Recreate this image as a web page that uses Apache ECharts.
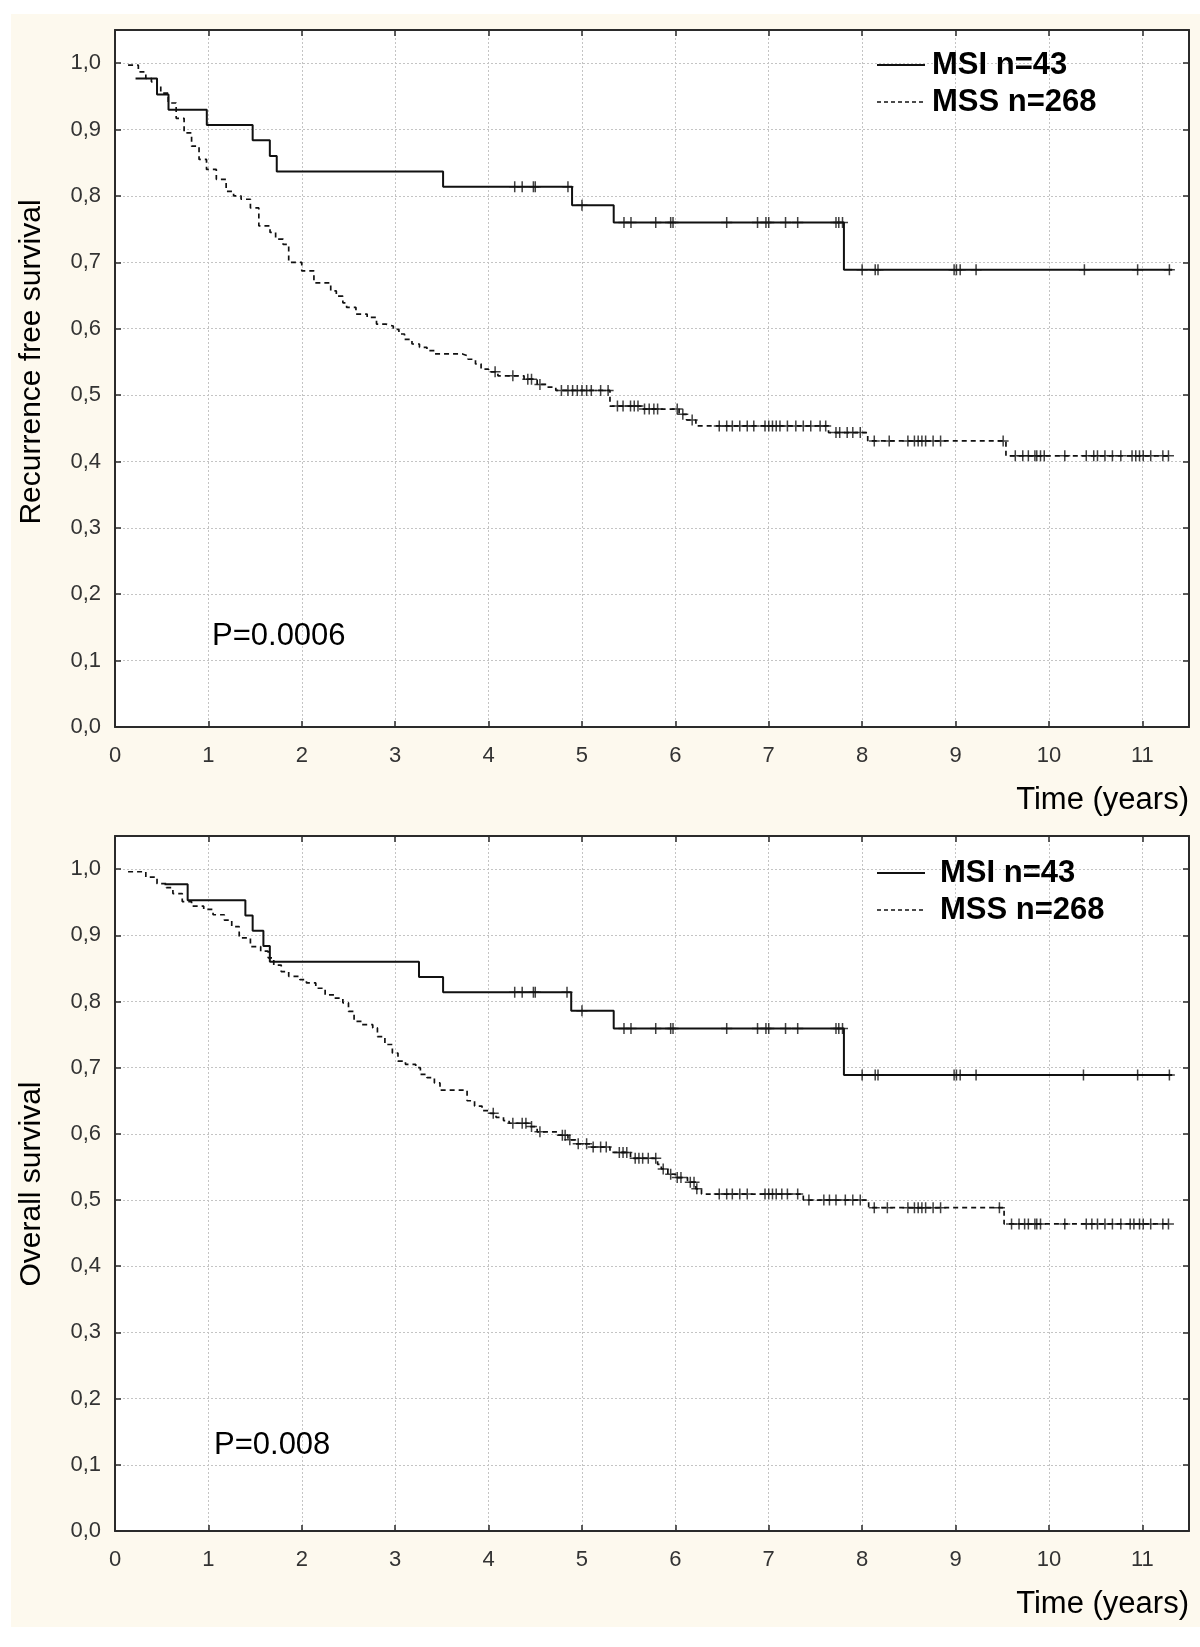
<!DOCTYPE html>
<html>
<head>
<meta charset="utf-8">
<script src="https://cdn.jsdelivr.net/npm/echarts@6/dist/echarts.min.js"></script>
<style>
html,body{margin:0;padding:0;background:#fff;}
#c{width:1200px;height:1647px;}
</style>
</head>
<body>
<div id="c"></div>
<script>
// ---------- DATA ----------
const xTickMax = 11.5;          // time axis extent (years)
const yTickMax = 1.05;          // survival axis extent

// Recurrence free survival, MSI (n=43): step times and survival after each step
const rfsMsiT = [0.22, 0.45, 0.573, 0.983, 1.474, 1.658, 1.732, 3.513, 4.894, 5.34, 7.805, 11.32];
const rfsMsiS = [0.977, 0.953, 0.930, 0.907, 0.884, 0.860, 0.837, 0.814, 0.786, 0.760, 0.689, 0.689];
const rfsMsiCens = [4.28, 4.36, 4.48, 4.50, 4.85, 5.0, 5.45, 5.525, 5.79, 5.95, 5.975, 6.55, 6.88, 6.97, 7.0, 7.18, 7.31, 7.72, 7.75, 7.79, 8.0, 8.14, 8.17, 8.985, 9.01, 9.05, 9.22, 10.38, 10.95, 11.29];

// Recurrence free survival, MSS (n=268)
const rfsMssT = [0.14, 0.25, 0.33, 0.39, 0.45, 0.49, 0.57, 0.655, 0.74, 0.82, 0.90, 0.98, 1.085, 1.19, 1.27, 1.35, 1.45, 1.54, 1.66, 1.72, 1.80, 1.86, 2.0, 2.13, 2.31, 2.37, 2.44, 2.48, 2.58, 2.70, 2.80, 2.90, 2.98, 3.04, 3.10, 3.18, 3.26, 3.34, 3.42, 3.72, 3.78, 3.86, 3.92, 4.00, 4.10, 4.38, 4.52, 4.62, 4.72, 5.30, 5.64, 6.04, 6.12, 6.22, 7.64, 8.06, 9.54, 11.28];
const rfsMssS = [0.997, 0.987, 0.977, 0.972, 0.966, 0.955, 0.94, 0.917, 0.895, 0.875, 0.855, 0.84, 0.825, 0.807, 0.80, 0.795, 0.782, 0.755, 0.745, 0.735, 0.727, 0.70, 0.687, 0.669, 0.657, 0.649, 0.639, 0.632, 0.622, 0.617, 0.607, 0.604, 0.599, 0.592, 0.584, 0.577, 0.572, 0.567, 0.562, 0.559, 0.554, 0.547, 0.539, 0.535, 0.529, 0.524, 0.516, 0.512, 0.507, 0.4835, 0.479, 0.471, 0.4625, 0.4535, 0.4435, 0.431, 0.4085, 0.4085];
const rfsMssCens = [4.07, 4.26, 4.42, 4.46, 4.55, 4.78, 4.85, 4.90, 4.95, 5.00, 5.05, 5.10, 5.20, 5.28, 5.38, 5.44, 5.52, 5.56, 5.60, 5.67, 5.72, 5.77, 5.81, 6.02, 6.08, 6.18, 6.47, 6.55, 6.61, 6.69, 6.77, 6.84, 6.96, 7.00, 7.04, 7.08, 7.12, 7.20, 7.29, 7.37, 7.45, 7.55, 7.61, 7.72, 7.76, 7.84, 7.90, 7.98, 8.13, 8.29, 8.49, 8.56, 8.60, 8.64, 8.68, 8.76, 8.84, 9.51, 9.64, 9.72, 9.78, 9.85, 9.87, 9.91, 9.95, 10.17, 10.40, 10.48, 10.52, 10.60, 10.68, 10.77, 10.89, 10.93, 10.97, 11.01, 11.09, 11.22, 11.28];

// Overall survival, MSI (n=43)
const osMsiT = [0.53, 0.778, 1.396, 1.474, 1.589, 1.658, 3.255, 3.513, 4.885, 5.34, 7.805, 11.32];
const osMsiS = [0.977, 0.953, 0.930, 0.907, 0.884, 0.860, 0.837, 0.814, 0.786, 0.759, 0.689, 0.689];
const osMsiCens = [4.28, 4.36, 4.48, 4.50, 4.84, 5.0, 5.45, 5.525, 5.79, 5.95, 5.975, 6.55, 6.88, 6.97, 7.0, 7.18, 7.31, 7.72, 7.75, 7.79, 8.0, 8.14, 8.17, 8.985, 9.01, 9.05, 9.22, 10.37, 10.95, 11.29];

// Overall survival, MSS (n=268)
const osMssT = [0.14, 0.33, 0.45, 0.55, 0.62, 0.72, 0.82, 0.95, 1.05, 1.17, 1.25, 1.33, 1.45, 1.56, 1.64, 1.70, 1.78, 1.86, 1.98, 2.05, 2.15, 2.25, 2.35, 2.44, 2.50, 2.56, 2.64, 2.76, 2.81, 2.89, 2.97, 3.03, 3.11, 3.22, 3.27, 3.34, 3.42, 3.48, 3.77, 3.85, 3.93, 4.02, 4.08, 4.16, 4.22, 4.44, 4.52, 4.75, 4.85, 4.93, 5.10, 5.30, 5.52, 5.81, 5.85, 5.92, 6.00, 6.13, 6.22, 6.28, 7.37, 8.07, 9.52, 11.28];
const osMssS = [0.996, 0.988, 0.978, 0.972, 0.963, 0.951, 0.944, 0.939, 0.931, 0.923, 0.913, 0.896, 0.883, 0.876, 0.866, 0.855, 0.845, 0.838, 0.833, 0.828, 0.820, 0.810, 0.805, 0.798, 0.785, 0.770, 0.765, 0.760, 0.747, 0.735, 0.722, 0.710, 0.705, 0.700, 0.690, 0.685, 0.677, 0.666, 0.650, 0.642, 0.635, 0.631, 0.625, 0.620, 0.616, 0.611, 0.603, 0.598, 0.591, 0.585, 0.580, 0.572, 0.563, 0.554, 0.547, 0.539, 0.534, 0.527, 0.517, 0.509, 0.500, 0.4885, 0.464, 0.464];
const osMssCens = [4.05, 4.26, 4.36, 4.40, 4.46, 4.55, 4.79, 4.82, 4.87, 4.96, 5.05, 5.12, 5.20, 5.26, 5.40, 5.44, 5.48, 5.57, 5.61, 5.65, 5.71, 5.79, 5.87, 5.95, 6.02, 6.06, 6.16, 6.20, 6.23, 6.47, 6.55, 6.61, 6.69, 6.77, 6.96, 7.00, 7.04, 7.08, 7.14, 7.20, 7.31, 7.43, 7.59, 7.65, 7.72, 7.82, 7.90, 7.98, 8.13, 8.27, 8.49, 8.56, 8.60, 8.64, 8.68, 8.76, 8.84, 9.47, 9.60, 9.68, 9.74, 9.78, 9.85, 9.87, 9.91, 10.17, 10.40, 10.46, 10.52, 10.60, 10.68, 10.77, 10.87, 10.91, 10.97, 11.01, 11.09, 11.22, 11.28];

const legendLabels = ['MSI n=43', 'MSS n=268'];
const yTitles = ['Recurrence free survival', 'Overall survival'];
const pValues = ['P=0.0006', 'P=0.008'];
const xTitle = 'Time (years)';

// ---------- helpers ----------
const FONT = '"Liberation Sans", Arial, sans-serif';
const INK = '#111';
function pairs(T, S) { return T.map((t, i) => [t, S[i]]); }
function levelAt(T, S, t) {
  let v = 1;
  for (let i = 0; i < T.length; i++) { if (T[i] <= t) v = S[i]; else break; }
  return v;
}
function censorPts(T, S, C) { return C.map(t => [t, levelAt(T, S, t)]); }

const CROSS = 'path://M0,5.5 L11,5.5 M5.5,0 L5.5,11';

const grids = [
  { left: 115, top: 30, width: 1074, height: 697 },
  { left: 115, top: 836, width: 1074, height: 695 }
];

const frameLine = { show: true, onZero: false, lineStyle: { color: '#2b2b2b', width: 2 } };
const innerTick = { show: true, inside: true, length: 6, lineStyle: { color: '#2b2b2b', width: 1.5 } };
const gridLine = { show: true, lineStyle: { type: [2, 2], color: '#c4c4c4', width: 1 } };

const xAxes = [], yAxes = [];
grids.forEach((g, gi) => {
  xAxes.push({
    gridIndex: gi, type: 'value', position: 'bottom', min: 0, max: xTickMax, interval: 1,
    axisLine: frameLine, axisTick: innerTick, splitLine: gridLine,
    axisLabel: { showMaxLabel: false, fontSize: 22, color: '#333', margin: 18, fontFamily: FONT }
  });
  xAxes.push({
    gridIndex: gi, type: 'value', position: 'top', min: 0, max: xTickMax, interval: 1,
    axisLine: frameLine, axisTick: innerTick, splitLine: { show: false }, axisLabel: { show: false }
  });
  yAxes.push({
    gridIndex: gi, type: 'value', position: 'left', min: 0, max: yTickMax, interval: 0.1,
    axisLine: frameLine, axisTick: innerTick, splitLine: gridLine,
    axisLabel: {
      showMaxLabel: false, fontSize: 22, color: '#333', margin: 14, fontFamily: FONT,
      formatter: v => (Math.round(v * 10) / 10).toFixed(1).replace('.', ',')
    }
  });
  yAxes.push({
    gridIndex: gi, type: 'value', position: 'right', min: 0, max: yTickMax, interval: 0.1,
    axisLine: frameLine, axisTick: innerTick, splitLine: { show: false }, axisLabel: { show: false }
  });
});

const panels = [
  { msiT: rfsMsiT, msiS: rfsMsiS, msiC: rfsMsiCens, mssT: rfsMssT, mssS: rfsMssS, mssC: rfsMssCens },
  { msiT: osMsiT, msiS: osMsiS, msiC: osMsiCens, mssT: osMssT, mssS: osMssS, mssC: osMssCens }
];

const series = [];
panels.forEach((p, gi) => {
  const xi = gi * 2, yi = gi * 2;
  series.push({
    name: legendLabels[0], type: 'line', step: 'end', xAxisIndex: xi, yAxisIndex: yi,
    data: pairs(p.msiT, p.msiS), symbol: 'none',
    lineStyle: { color: INK, width: 2, type: 'solid' }, z: 3
  });
  series.push({
    name: legendLabels[1], type: 'line', step: 'end', xAxisIndex: xi, yAxisIndex: yi,
    data: pairs(p.mssT, p.mssS), symbol: 'none',
    lineStyle: { color: INK, width: 1.7, type: [5, 4] }, z: 3
  });
  series.push({
    type: 'scatter', xAxisIndex: xi, yAxisIndex: yi, data: censorPts(p.msiT, p.msiS, p.msiC),
    symbol: CROSS, symbolSize: 11,
    itemStyle: { color: 'transparent', borderColor: INK, borderWidth: 1.5 }, z: 4
  });
  series.push({
    type: 'scatter', xAxisIndex: xi, yAxisIndex: yi, data: censorPts(p.mssT, p.mssS, p.mssC),
    symbol: CROSS, symbolSize: 11,
    itemStyle: { color: 'transparent', borderColor: INK, borderWidth: 1.5 }, z: 4
  });
});

function txt(x, y, text, font, align, vAlign, rotation) {
  return {
    type: 'text', x: x, y: y, rotation: rotation || 0, silent: true, z: 10,
    style: { text: text, font: font, fill: '#000',
      textAlign: align, align: align, textVerticalAlign: vAlign, verticalAlign: vAlign }
  };
}
function legendLine(x1, x2, y, dashed) {
  return {
    type: 'line', silent: true, z: 10,
    shape: { x1: x1, y1: y, x2: x2, y2: y },
    style: { stroke: INK, lineWidth: dashed ? 1.7 : 2, lineDash: dashed ? [4, 3] : null }
  };
}

const legendPos = [
  { lx1: 877, lx2: 925, tx: 932, y1: 65, y2: 102 },
  { lx1: 877, lx2: 925, tx: 940, y1: 873, y2: 910 }
];
const yTitlePos = [{ x: 32, y: 362 }, { x: 32, y: 1184 }];
const pPos = [{ x: 212, y: 636 }, { x: 214, y: 1445 }];
const xTitlePos = [{ x: 1189, y: 800 }, { x: 1189, y: 1604 }];

const graphics = [
  { type: 'rect', silent: true, z: -100, shape: { x: 11, y: 14, width: 1189, height: 1613 }, style: { fill: '#fdf9ee' } }
];
[0, 1].forEach(i => {
  const L = legendPos[i];
  graphics.push(legendLine(L.lx1, L.lx2, L.y1, false));
  graphics.push(legendLine(L.lx1, L.lx2, L.y2, true));
  graphics.push(txt(L.tx, L.y1, legendLabels[0], 'bold 31px ' + FONT, 'left', 'middle'));
  graphics.push(txt(L.tx, L.y2, legendLabels[1], 'bold 31px ' + FONT, 'left', 'middle'));
  graphics.push(txt(yTitlePos[i].x, yTitlePos[i].y, yTitles[i], '30px ' + FONT, 'center', 'middle', Math.PI / 2));
  graphics.push(txt(pPos[i].x, pPos[i].y, pValues[i], '31px ' + FONT, 'left', 'middle'));
  graphics.push(txt(xTitlePos[i].x, xTitlePos[i].y, xTitle, '31px ' + FONT, 'right', 'middle'));
});

const chart = echarts.init(document.getElementById('c'), null, { renderer: 'canvas' });
chart.setOption({
  backgroundColor: '#fff',
  animation: false,
  grid: grids.map(g => Object.assign({ show: true, backgroundColor: '#fff', borderWidth: 0, containLabel: false }, g)),
  xAxis: xAxes,
  yAxis: yAxes,
  series: series,
  graphic: graphics
});
</script>
</body>
</html>
